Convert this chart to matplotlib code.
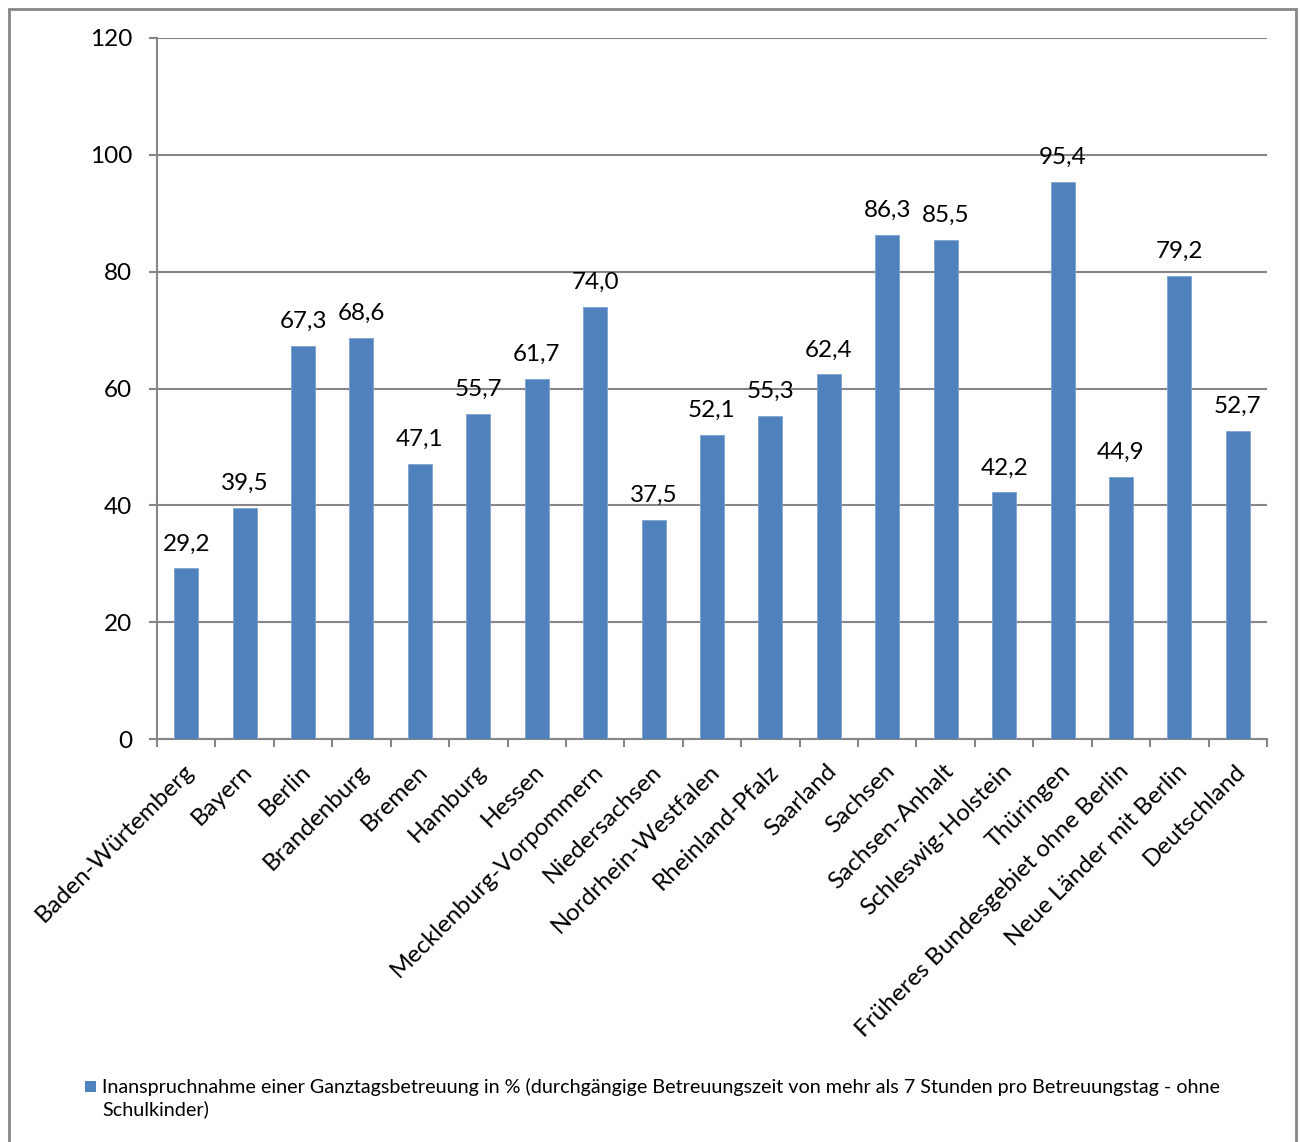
import matplotlib
matplotlib.use("Agg")
import matplotlib.pyplot as plt
from matplotlib.patches import Rectangle
import matplotlib.transforms as mtransforms
import numpy as np

plt.rcParams['font.family'] = ['Lato', 'DejaVu Sans']

categories = [
    "Baden-Würtemberg", "Bayern", "Berlin", "Brandenburg", "Bremen",
    "Hamburg", "Hessen", "Mecklenburg-Vorpommern", "Niedersachsen",
    "Nordrhein-Westfalen", "Rheinland-Pfalz", "Saarland", "Sachsen",
    "Sachsen-Anhalt", "Schleswig-Holstein", "Thüringen",
    "Früheres Bundesgebiet ohne Berlin", "Neue Länder mit Berlin",
    "Deutschland",
]
values = [29.2, 39.5, 67.3, 68.6, 47.1, 55.7, 61.7, 74.0, 37.5, 52.1,
          55.3, 62.4, 86.3, 85.5, 42.2, 95.4, 44.9, 79.2, 52.7]
y_ticks = [0, 20, 40, 60, 80, 100, 120]
series_label = ("Inanspruchnahme einer Ganztagsbetreuung in % (durchgängige "
                "Betreuungszeit von mehr als 7 Stunden pro Betreuungstag - ohne\n"
                "Schulkinder)")

BAR = "#4F81BD"
GRID = "#868686"
FS = 17.5

W, H = 1300, 1142
fig = plt.figure(figsize=(W / 100, H / 100), dpi=100)
ax = fig.add_axes([157 / W, 1 - 739 / H, (1267 - 157) / W, (739 - 38) / H])

x = np.arange(len(categories))
ax.bar(x, values, width=0.41, color=BAR, edgecolor="#7FA3D0", linewidth=0.6, zorder=3)

ax.set_xlim(-0.5, len(categories) - 0.5)
ax.set_ylim(0, 120)
ax.set_yticks(y_ticks)
ax.set_yticklabels([str(t) for t in y_ticks], fontsize=FS)
ax.yaxis.grid(True, color=GRID, linewidth=1.5, zorder=0)
ax.set_axisbelow(True)

for side in ("top", "right"):
    ax.spines[side].set_visible(False)
for side in ("left", "bottom"):
    ax.spines[side].set_color(GRID)
    ax.spines[side].set_linewidth(1.5)

ax.tick_params(axis="y", length=6, width=1.5, color=GRID, pad=12)
# category ticks sit between the bars
ax.set_xticks(np.arange(len(categories) + 1) - 0.5, minor=True)
ax.tick_params(axis="x", which="minor", length=6, width=1.5, color=GRID)
ax.set_xticks(x)
ax.tick_params(axis="x", which="major", length=0, pad=4)
ax.set_xticklabels(categories, rotation=45, ha="right", rotation_mode="anchor",
                   fontsize=FS)
offset = mtransforms.ScaledTranslation(-3 / 100, -16 / 100, fig.dpi_scale_trans)
for lbl in ax.get_xticklabels():
    lbl.set_transform(lbl.get_transform() + offset)

# value labels above the bars (German decimal comma)
for xi, v in zip(x, values):
    ax.annotate(f"{v:.1f}".replace(".", ","), (xi, v), xytext=(0, 13),
                textcoords="offset points", ha="center", va="baseline",
                fontsize=FS, color="black", zorder=4)

# legend: small swatch plus wrapped description
fig.patches.append(Rectangle((85 / W, 1 - 1092 / H), 11 / W, 11 / H,
                             transform=fig.transFigure, facecolor=BAR,
                             edgecolor="none"))
fig.text(102 / W, 1 - 1078 / H, series_label, fontsize=14.2, va="top",
         ha="left", linespacing=1.3)

# chart frame
fig.patches.append(Rectangle((9 / W, -0.05), (1296 - 9) / W, 1.05 - 9 / H,
                             transform=fig.transFigure, facecolor="none",
                             edgecolor=GRID, linewidth=2))

fig.savefig("out.png", dpi=100)
